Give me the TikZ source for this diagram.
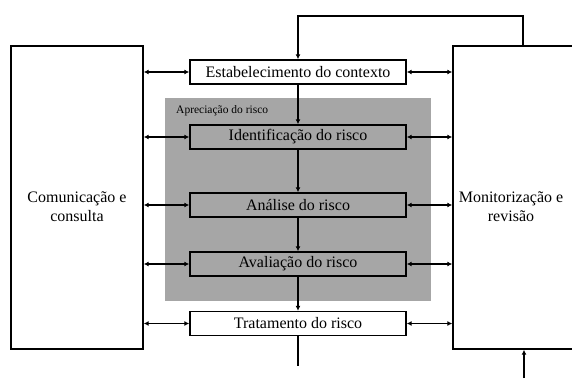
\documentclass[tikz,border=0pt]{standalone}
\usepackage{fontspec}
\setmainfont{Liberation Serif}
\usetikzlibrary{arrows.meta}
\definecolor{aprgray}{RGB}{166,166,166}

\begin{document}
\begin{tikzpicture}[x=1pt,y=-1pt
	,every node/.style={inner sep=0,font=\fontsize{16}{19}\selectfont}
	,box/.style={draw,line width=1.4pt,minimum width=216pt,minimum height=24pt}
	,side/.style={draw,line width=1.4pt,minimum height=303pt}
	,link/.style={line width=1.2pt,-{Latex[length=5pt,width=5pt]}}
	,dlink/.style={line width=1.2pt,{Latex[length=5pt,width=5pt]}-{Latex[length=5pt,width=5pt]}}
]
\clip (0,0) rectangle (572,378);

\node[side,minimum width=132pt](comm) at(77,197.5) {};
\node[side,minimum width=140pt](mon) at(523,197.5) {};
\node[align=center](commtxt) at(77,207) {Comunicação e\\consulta};
\node[align=center](montxt) at(511,207) {Monitorização e\\revisão};

\node[fill=aprgray,draw=gray!70,minimum width=265pt,minimum height=202pt](apr) at(297.5,199) {};
\node[anchor=west,font=\fontsize{11.5}{13}\selectfont](aprtxt) at(176,111) {Apreciação do risco};

\node[box,fill=white](est) at(298,72) {Estabelecimento do contexto};
\node[box,fill=aprgray](ident) at(298,137) {Identificação do risco};
\node[box,fill=aprgray](anal) at(298,205) {Análise do risco};
\node[box,fill=aprgray](aval) at(298,264) {Avaliação do risco};
\node[box,fill=white](trat) at(298,323.5) {Tratamento do risco};

\foreach \u/\v in {est/ident,ident/anal,anal/aval,aval/trat}{
	\draw[link] (\u) -- (\v);
}

\foreach \u in {est,ident,anal,aval,trat}{
	\draw[dlink] (\u -| comm.east) -- (\u.west);
	\draw[dlink] (\u.east) -- (\u -| mon.west);
}

\coordinate(top) at(523,16);
\coordinate(bot) at(298,366);
\coordinate(up) at(524,378);
\draw[link] (top |- mon.north) -- (top) -| (est.north);
\draw[line width=1.2pt] (trat.south) -- (bot);
\draw[link] (up) -- (up |- mon.south);

\end{tikzpicture}
\end{document}
